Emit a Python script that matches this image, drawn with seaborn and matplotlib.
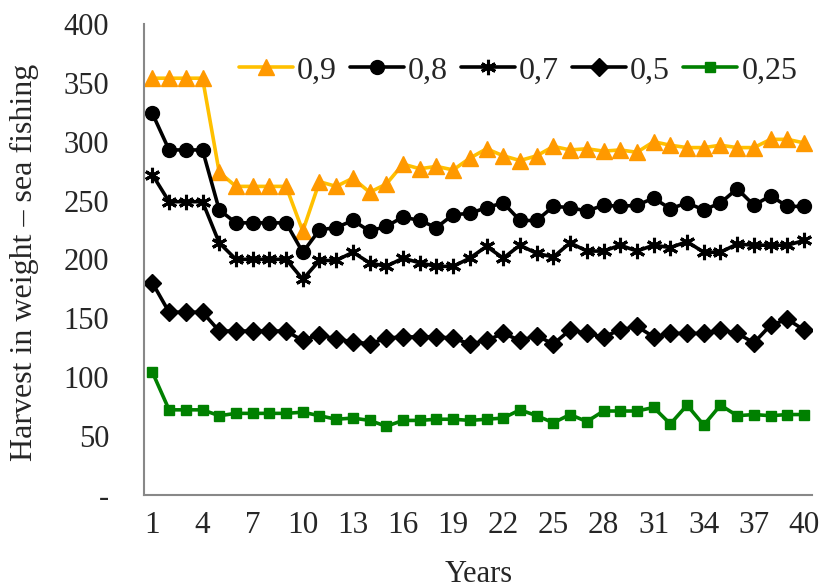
import numpy as np
import pandas as pd
import matplotlib
matplotlib.use("Agg")
import matplotlib.pyplot as plt
import seaborn as sns
from matplotlib.ticker import FixedLocator, FuncFormatter

years = list(range(1, 41))

s09 = [354, 354, 354, 354, 274, 262, 262, 262, 262, 224,
       266, 262, 269, 257, 264, 281, 277, 279, 276, 286,
       294, 288, 284, 288, 296, 293, 294, 292, 293, 291,
       300, 297, 295, 295, 297, 295, 295, 302, 302, 299]
s08 = [324, 293, 293, 293, 242, 231, 231, 231, 231, 206,
       225, 227, 233, 224, 228, 236, 233, 227, 238, 239,
       244, 248, 233, 233, 245, 244, 241, 246, 245, 246,
       252, 243, 248, 242, 248, 260, 246, 254, 245, 245]
s07 = [272, 249, 249, 249, 214, 200, 200, 200, 200, 183,
       199, 199, 206, 197, 194, 201, 197, 194, 194, 201,
       211, 201, 212, 205, 202, 214, 207, 207, 212, 207,
       212, 210, 215, 206, 206, 213, 212, 212, 212, 216]
s05 = [180, 155, 155, 155, 139, 139, 139, 139, 139, 131,
       136, 132, 130, 128, 133, 134, 134, 134, 133, 128,
       131, 137, 131, 135, 128, 140, 137, 134, 140, 143,
       134, 137, 137, 137, 140, 137, 129, 144, 149, 140]
s025 = [104, 72, 72, 72, 67, 69, 69, 69, 69, 70,
        67, 64, 65, 63, 58, 63, 63, 64, 64, 63,
        64, 65, 72, 67, 61, 68, 62, 71, 71, 71,
        74, 60, 76, 59, 76, 67, 68, 67, 68, 68]

labels = ["0,9", "0,8", "0,7", "0,5", "0,25"]
series = [s09, s08, s07, s05, s025]
styles = [
    dict(color="#FFC000", marker="^", mfc="#FF9900", mec="#FF9900", ms=12),
    dict(color="black", marker="o", mfc="black", mec="black", ms=10),
    dict(color="black", marker=(6, 2, 0), mfc="black", mec="black", ms=11, mew=2.2),
    dict(color="black", marker="D", mfc="black", mec="black", ms=9),
    dict(color="#008000", marker="s", mfc="#008000", mec="#008000", ms=7.5),
]

sns.set_style("white")
plt.rcParams["font.family"] = ["Liberation Serif", "DejaVu Serif"]

fig = plt.figure(figsize=(8.24, 5.88), dpi=100)
ax = fig.add_axes([0.1748, 0.159, 0.8111, 0.800])

for lab, vals, st in zip(labels, series, styles):
    df = pd.DataFrame({"Years": years, "v": vals})
    sns.lineplot(data=df, x="Years", y="v", ax=ax, label=lab,
                 color=st["color"], linewidth=2.6, marker=st["marker"],
                 markersize=st["ms"], markerfacecolor=st["mfc"],
                 markeredgecolor=st["mec"], markeredgewidth=st.get("mew", 1))

ax.set_xlim(0.5, 40.5)
ax.set_ylim(0, 400)

ax.xaxis.set_major_locator(FixedLocator(list(range(1, 41, 3))))
ax.xaxis.set_minor_locator(FixedLocator([0.5 + 3 * k for k in range(14)]))
ax.tick_params(axis="x", which="major", length=0, labelsize=22.5, pad=12)
ax.tick_params(axis="x", which="minor", length=7, direction="in", color="#888888", width=1.2)

ax.set_yticks(list(range(0, 401, 50)))
ax.yaxis.set_major_formatter(FuncFormatter(lambda v, p: "-" if v == 0 else f"{int(v)}"))
ax.tick_params(axis="y", which="major", length=7, direction="in", color="#888888",
               width=1.2, labelsize=22, pad=25)

for side in ["top", "right"]:
    ax.spines[side].set_visible(False)
for side in ["left", "bottom"]:
    ax.spines[side].set_color("#888888")
    ax.spines[side].set_linewidth(1.5)

ax.set_xlabel("Years", fontsize=22, labelpad=14)
ax.set_ylabel("Harvest in weight \u2013 sea fishing", fontsize=23)
ax.yaxis.set_label_coords(-0.157, 0.494)

leg = ax.legend(loc="center left", bbox_to_anchor=(239 / 824, 1 - 70.7 / 588),
                bbox_transform=fig.transFigure, ncol=5, frameon=False,
                fontsize=23, handlelength=1.69, handletextpad=0.125, columnspacing=0.41,
                borderpad=0, borderaxespad=0)

fig.savefig("out.png", dpi=100)
